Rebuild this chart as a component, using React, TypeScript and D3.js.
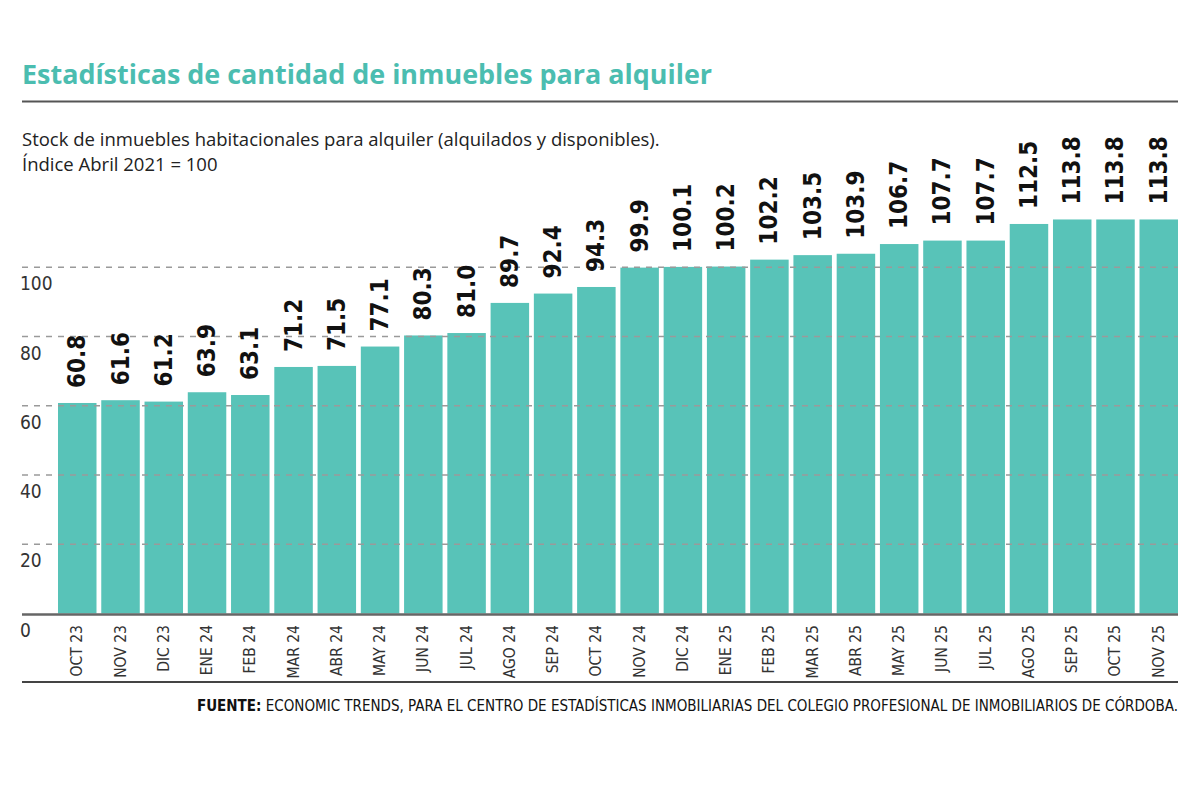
import React from "react";
import * as d3 from "d3";

// meses (eje X) y valores del índice
const months = [
  "OCT 23", "NOV 23", "DIC 23", "ENE 24", "FEB 24", "MAR 24", "ABR 24",
  "MAY 24", "JUN 24", "JUL 24", "AGO 24", "SEP 24", "OCT 24", "NOV 24",
  "DIC 24", "ENE 25", "FEB 25", "MAR 25", "ABR 25", "MAY 25", "JUN 25",
  "JUL 25", "AGO 25", "SEP 25", "OCT 25", "NOV 25",
];
const values = [
  60.8, 61.6, 61.2, 63.9, 63.1, 71.2, 71.5, 77.1, 80.3, 81.0, 89.7, 92.4,
  94.3, 99.9, 100.1, 100.2, 102.2, 103.5, 103.9, 106.7, 107.7, 107.7, 112.5,
  113.8, 113.8, 113.8,
];
const yTicks = [0, 20, 40, 60, 80, 100];

const title = "Estadísticas de cantidad de inmuebles para alquiler";
const subtitle1 = "Stock de inmuebles habitacionales para alquiler (alquilados y disponibles).";
const subtitle2 = "Índice Abril 2021 = 100";
const sourceLead = "FUENTE:";
const sourceText =
  " ECONOMIC TRENDS, PARA EL CENTRO DE ESTADÍSTICAS INMOBILIARIAS DEL COLEGIO PROFESIONAL DE INMOBILIARIOS DE CÓRDOBA.";

const TEAL = "#58c3b8";
const TITLE_TEAL = "#4bbdb0";
const NARROW = "'Liberation Sans Narrow', 'DejaVu Sans Condensed', sans-serif";
const HUMANIST = "'Open Sans', 'Noto Sans', sans-serif";

const App = () => {
  const left = 22;
  const right = 1178;

  const data = months.map((m, i) => ({ month: m, value: values[i] }));

  const x = d3
    .scaleBand<string>()
    .domain(months)
    .range([58, right])
    .paddingInner(0.11)
    .paddingOuter(0);

  const y = d3.scaleLinear().domain([0, 120]).range([613.5, 198]);

  return (
    <svg
      width={1200}
      height={800}
      style={{ position: "absolute", left: 0, top: 0, display: "block" }}
    >
      <rect width={1200} height={800} fill="#fff" />

      {/* título */}
      <text
        x={left}
        y={84}
        fill={TITLE_TEAL}
        fontFamily={HUMANIST}
        fontWeight={700}
        fontSize={26.5}
        textLength={690}
        lengthAdjust="spacingAndGlyphs"
      >
        {title}
      </text>
      <line x1={left} x2={right} y1={101.5} y2={101.5} stroke="#555" strokeWidth={2} />

      {/* subtítulo */}
      <text x={left} y={146} fill="#222" fontFamily={HUMANIST} fontSize={18.5}>
        {subtitle1}
      </text>
      <text x={left} y={171} fill="#222" fontFamily={HUMANIST} fontSize={18.5}>
        {subtitle2}
      </text>

      {/* barras */}
      <g>
        {data.map((d) => (
          <rect
            key={d.month}
            x={x(d.month)}
            y={y(d.value)}
            width={x.bandwidth()}
            height={y(0) - y(d.value)}
            fill={TEAL}
          />
        ))}
      </g>

      {/* grilla punteada, encima de las barras */}
      <g>
        {yTicks
          .filter((t) => t > 0)
          .map((t) => (
            <line
              key={t}
              x1={left}
              x2={right}
              y1={y(t)}
              y2={y(t)}
              stroke="#9a9a9a"
              strokeWidth={1.3}
              strokeDasharray="6 6"
            />
          ))}
      </g>

      {/* línea base */}
      <line x1={left} x2={right} y1={y(0) + 1} y2={y(0) + 1} stroke="#666" strokeWidth={2.5} />

      {/* etiquetas eje Y */}
      <g fontFamily={NARROW} fontSize={19} fill="#333">
        {yTicks.map((t) => (
          <text key={t} x={20} y={y(t) + 16} dominantBaseline="central">
            {t}
          </text>
        ))}
      </g>

      {/* valores sobre cada barra */}
      <g fontFamily={NARROW} fontWeight={700} fontSize={24} fill="#111">
        {data.map((d) => {
          const cx = (x(d.month) ?? 0) + x.bandwidth() / 2;
          const cy = y(d.value) - 15;
          return (
            <text
              key={d.month}
              transform={`translate(${cx},${cy}) rotate(-90)`}
              dominantBaseline="central"
            >
              {d.value.toFixed(1)}
            </text>
          );
        })}
      </g>

      {/* meses */}
      <g fontFamily={NARROW} fontSize={15.5} fill="#333">
        {months.map((m) => {
          const cx = (x(m) ?? 0) + x.bandwidth() / 2;
          return (
            <text
              key={m}
              transform={`translate(${cx},${625}) rotate(-90)`}
              textAnchor="end"
              dominantBaseline="central"
            >
              {m}
            </text>
          );
        })}
      </g>

      <line x1={left} x2={right} y1={682} y2={682} stroke="#444" strokeWidth={2} />

      {/* fuente */}
      <text
        x={right}
        y={711}
        textAnchor="end"
        fontFamily={NARROW}
        fontSize={15}
        fill="#111"
      >
        <tspan fontWeight={700}>{sourceLead}</tspan>
        <tspan>{sourceText}</tspan>
      </text>
    </svg>
  );
};

export default App;
